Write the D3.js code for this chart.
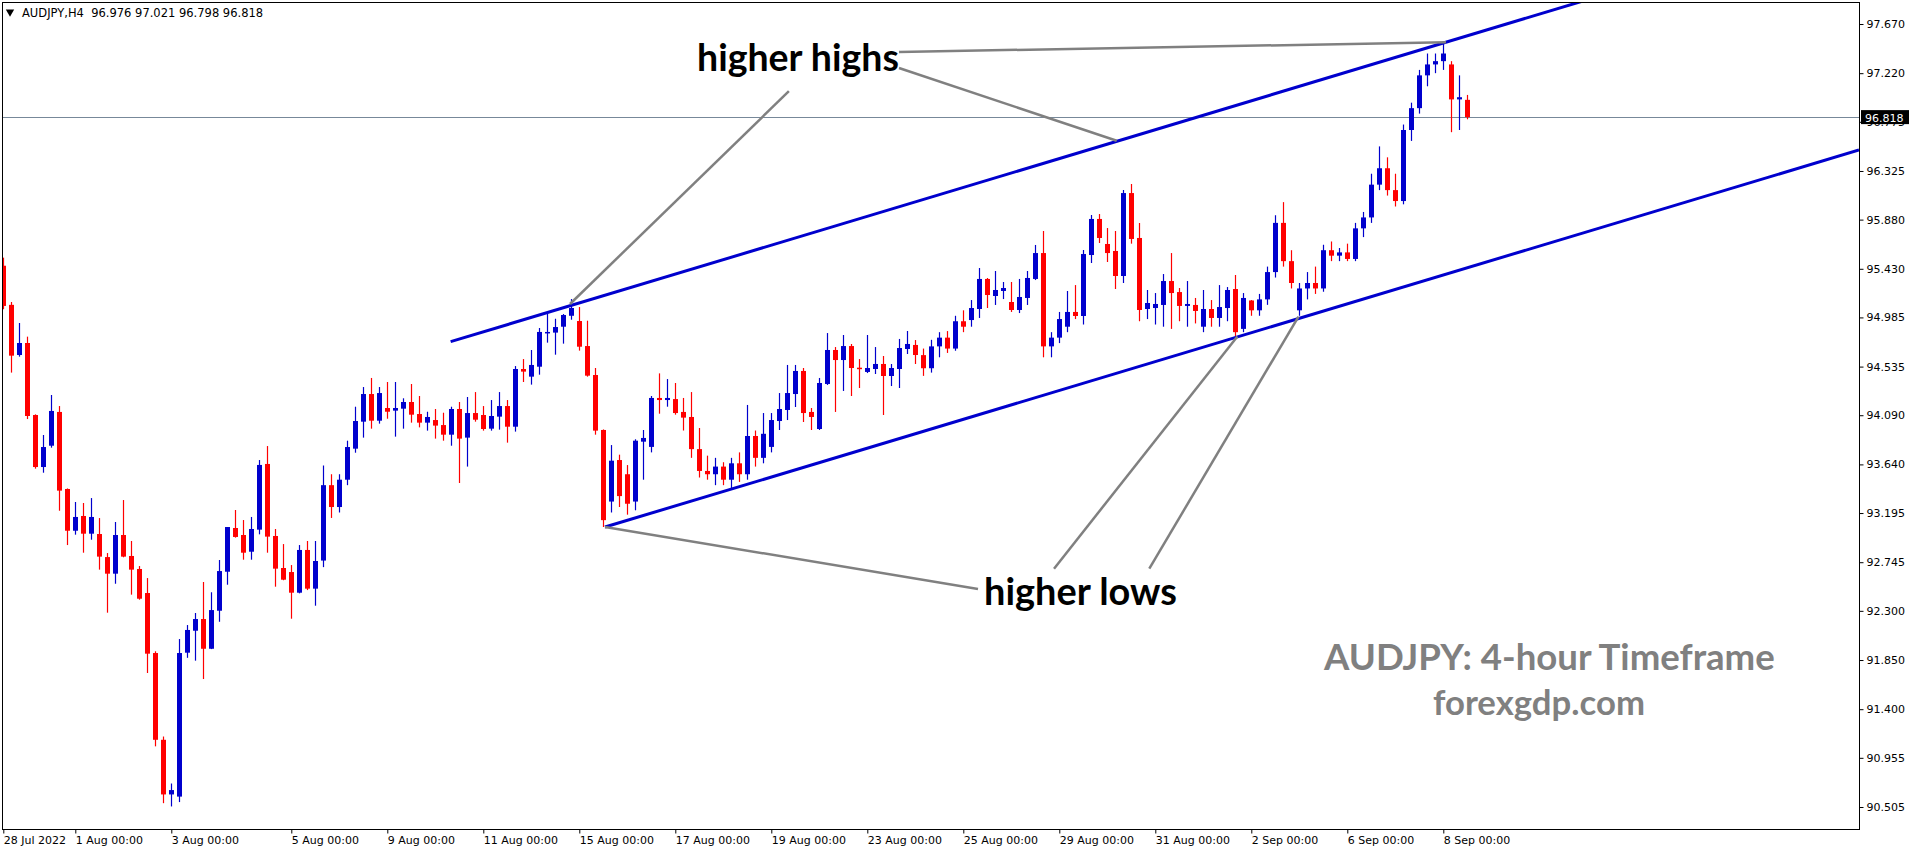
<!DOCTYPE html>
<html><head><meta charset="utf-8">
<script src="https://cdn.jsdelivr.net/npm/d3@7"></script>
<style>
html,body{margin:0;padding:0;background:#fff;overflow:hidden}
svg{display:block}
</style></head><body>
<svg id="chart" width="1916" height="850"></svg>
<script>
// ---------------- DATA ----------------
const chartTitle = "AUDJPY,H4  96.976 97.021 96.798 96.818";
const opens = [
95.458,95.10,94.641,94.751,94.092,93.616,93.811,94.12,93.415,93.033,
93.168,93.006,93.003,92.792,92.64,92.994,92.802,92.683,92.463,91.914,
91.12,90.62,90.60,91.917,92.118,92.225,91.953,92.301,92.658,93.058,
92.994,92.841,93.043,93.644,92.985,92.692,92.655,92.466,92.857,92.503,
92.76,93.45,93.25,93.50,93.784,94.031,94.284,94.04,94.156,94.132,
94.15,94.211,94.101,94.022,94.046,94.0,93.912,94.147,93.885,94.11,
94.092,93.967,94.077,94.174,93.985,94.513,94.443,94.534,94.846,94.846,
94.9,95.0,94.952,94.723,94.458,93.955,93.30,93.68,93.55,93.30,
93.848,93.80,94.248,94.229,94.238,94.12,94.074,93.78,93.58,93.55,
93.62,93.50,93.65,93.55,93.90,93.70,93.80,94.037,94.138,94.284,
94.495,94.12,93.964,94.376,94.687,94.595,94.723,94.525,94.486,94.513,
94.559,94.449,94.513,94.696,94.733,94.64,94.52,94.72,94.80,94.70,
94.95,94.961,95.062,95.337,95.181,95.227,95.126,95.053,95.163,95.337,
95.574,94.72,94.80,94.90,95.035,94.998,95.556,95.886,95.657,95.593,
95.364,96.123,95.712,95.062,95.071,95.099,95.318,95.217,95.09,95.099,
94.90,95.062,94.98,95.071,95.245,94.88,95.14,95.05,95.15,95.40,
95.85,95.50,95.05,95.25,95.30,95.25,95.60,95.55,95.58,95.52,
95.80,95.90,96.20,96.35,96.15,96.05,96.70,96.90,97.20,97.30,
97.33,97.30,96.98,96.976];
const highs = [
95.532,95.126,94.934,94.809,94.098,93.909,94.275,94.174,93.42,93.296,
93.287,93.332,93.149,92.829,93.113,93.314,92.939,92.71,92.60,91.93,
91.15,90.72,92.042,92.17,92.28,92.564,92.47,92.765,93.067,93.223,
93.131,93.159,93.68,93.808,93.049,92.911,92.719,92.902,92.939,92.939,
93.63,93.55,93.55,93.857,94.168,94.348,94.431,94.348,94.394,94.394,
94.245,94.376,94.266,94.122,94.147,94.113,94.168,94.211,94.257,94.302,
94.174,94.229,94.302,94.229,94.54,94.604,94.687,94.888,95.019,94.973,
95.016,95.153,95.08,94.955,94.522,93.96,93.817,93.729,93.634,93.87,
93.955,94.266,94.473,94.421,94.385,94.248,94.302,93.973,93.72,93.70,
93.66,93.70,93.75,94.184,93.95,94.11,94.11,94.293,94.55,94.55,
94.522,94.156,94.431,94.842,94.714,94.824,94.742,94.604,94.824,94.714,
94.632,94.559,94.788,94.861,94.778,94.70,94.78,94.85,94.86,95.00,
95.05,95.144,95.437,95.346,95.41,95.309,95.309,95.337,95.41,95.648,
95.776,94.85,95.035,95.227,95.281,95.602,95.922,95.931,95.803,95.776,
96.151,96.206,95.849,95.236,95.208,95.382,95.574,95.254,95.318,95.163,
95.236,95.144,95.281,95.263,95.373,95.208,95.144,95.20,95.45,95.92,
96.04,95.60,95.30,95.40,95.45,95.65,95.68,95.62,95.66,95.85,
95.95,96.30,96.55,96.45,96.30,96.75,96.95,97.25,97.40,97.40,
97.50,97.33,97.20,97.021];
const lows = [
95.06,94.48,94.626,94.055,93.601,93.564,93.793,93.216,92.902,92.997,
92.832,92.951,92.677,92.283,92.548,92.79,92.448,92.402,91.731,91.06,
90.54,90.51,90.55,91.87,91.844,91.676,91.95,92.20,92.539,92.97,
92.768,92.768,93.0,92.832,92.521,92.58,92.228,92.46,92.49,92.347,
92.70,93.15,93.20,93.45,93.747,93.885,93.967,94.013,94.058,93.894,
93.967,94.022,93.979,93.949,93.876,93.857,93.811,93.47,93.62,94.031,
93.949,93.949,93.958,93.839,93.94,94.394,94.37,94.461,94.754,94.644,
94.745,94.964,94.681,94.443,93.912,93.067,93.20,93.25,93.18,93.22,
93.50,93.75,94.104,94.168,94.095,93.95,93.70,93.52,93.50,93.45,
93.45,93.42,93.48,93.50,93.62,93.65,93.75,93.955,94.046,94.165,
94.028,93.955,93.955,94.367,94.12,94.312,94.266,94.339,94.476,94.467,
94.092,94.357,94.339,94.65,94.559,94.45,94.48,94.62,94.66,94.68,
94.85,94.90,94.98,95.071,95.099,95.153,95.035,95.025,95.099,95.327,
94.62,94.62,94.75,94.85,94.97,94.92,95.483,95.666,95.492,95.245,
95.30,95.66,94.95,94.97,94.92,94.90,94.88,94.95,94.90,94.93,
94.85,94.90,94.90,94.95,94.81,94.85,95.00,95.00,95.10,95.35,
95.45,95.25,95.00,95.15,95.20,95.22,95.50,95.50,95.50,95.50,
95.72,95.85,96.15,96.10,96.00,96.02,96.60,96.85,97.10,97.22,
97.25,96.68,96.70,96.798];
const closes = [
95.09,94.635,94.751,94.083,93.616,93.799,94.129,93.40,93.033,93.159,
93.006,93.159,92.796,92.64,92.994,92.796,92.677,92.411,91.908,91.12,
90.62,90.66,91.914,92.125,92.225,91.953,92.307,92.664,93.067,92.976,
92.832,93.049,93.635,92.979,92.686,92.585,92.466,92.857,92.503,92.756,
93.45,93.25,93.50,93.799,94.037,94.284,94.04,94.293,94.122,94.156,
94.211,94.095,94.022,94.074,93.995,93.912,94.147,93.876,94.11,94.049,
93.964,94.083,94.174,93.985,94.513,94.489,94.55,94.852,94.852,94.897,
95.007,95.071,94.717,94.452,93.949,93.13,93.674,93.35,93.28,93.857,
93.882,94.248,94.229,94.248,94.11,94.068,93.78,93.58,93.55,93.62,
93.50,93.65,93.55,93.90,93.70,93.92,94.046,94.147,94.293,94.495,
94.11,94.074,94.385,94.687,94.595,94.723,94.522,94.519,94.522,94.559,
94.449,94.522,94.705,94.742,94.641,94.52,94.72,94.80,94.70,94.95,
94.90,95.071,95.337,95.19,95.236,95.254,95.053,95.172,95.346,95.574,
94.72,94.80,94.97,95.035,94.998,95.565,95.886,95.712,95.574,95.364,
96.123,95.703,95.053,95.117,95.108,95.318,95.208,95.09,95.108,95.044,
95.062,94.98,95.08,95.236,94.85,95.163,95.05,95.15,95.40,95.85,
95.50,95.30,95.25,95.30,95.25,95.60,95.55,95.58,95.52,95.80,
95.90,96.20,96.35,96.15,96.05,96.70,96.90,97.20,97.30,97.33,
97.40,96.98,97.00,96.818];
const priceTicks = [97.670,97.220,96.775,96.325,95.880,95.430,94.985,94.535,94.090,93.640,93.195,92.745,92.300,91.850,91.400,90.955,90.505];
const dateLabels = ["28 Jul 2022","1 Aug 00:00","3 Aug 00:00","5 Aug 00:00","9 Aug 00:00","11 Aug 00:00","15 Aug 00:00","17 Aug 00:00","19 Aug 00:00","23 Aug 00:00","25 Aug 00:00","29 Aug 00:00","31 Aug 00:00","2 Sep 00:00","6 Sep 00:00","8 Sep 00:00"];
const dateLabelBars = [0,9,21,36,48,60,72,84,96,108,120,132,144,156,168,180];
const lastPrice = 96.818;
// trend lines: [barIndex, price]
const upperChannel = [[55.92,94.763],[232,98.641]];
const lowerChannel = [[75.21,93.067],[231.96,96.517]];
const pointerLines = [
  [[98.2,97.055],[70.84,95.108]],
  [[111.96,97.267],[139.18,96.602]],
  [[111.96,97.414],[180.34,97.503]],
  [[121.84,92.50],[75.21,93.067]],
  [[131.34,92.686],[154.26,94.810]],
  [[143.25,92.686],[161.9,94.993]]
];
const annotations = [
  {text:"higher highs", x:697, y:71, w:202, color:"#000"},
  {text:"higher lows", x:984, y:605, w:193, color:"#000"},
  {text:"AUDJPY: 4-hour Timeframe", x:1324, y:670, w:451, color:"#808080"},
  {text:"forexgdp.com", x:1433, y:715, w:212, color:"#808080"}
];

// ---------------- LAYOUT ----------------
const W = 1916, H = 850;
const plot = {left:2, top:2, right:1859, bottom:829};
const svg = d3.select("#chart");

const x = d3.scaleLinear().domain([0, 232]).range([3.3, 3.3 + 8*232]);
const y = d3.scaleLinear().domain([90.505, 97.670]).range([807, 24]);

const candles = opens.map((o,i)=>({i, o, h:highs[i], l:lows[i], c:closes[i]}));

svg.append("rect").attr("width",W).attr("height",H).attr("fill","#fff");

svg.append("defs").append("clipPath").attr("id","plotclip")
  .append("rect").attr("x",plot.left).attr("y",plot.top)
  .attr("width",plot.right-plot.left).attr("height",plot.bottom-plot.top);

const g = svg.append("g").attr("clip-path","url(#plotclip)");

// current price line
g.append("line")
  .attr("x1",plot.left).attr("x2",plot.right)
  .attr("y1",Math.round(y(lastPrice))+0.5).attr("y2",Math.round(y(lastPrice))+0.5)
  .attr("stroke","#778899").attr("stroke-width",1);

const BULL = "#0000cd", BEAR = "#ff0000";
const cg = g.append("g");
cg.selectAll("line.wick").data(candles).join("line")
  .attr("class","wick")
  .attr("x1",d=>Math.round(x(d.i))+0.5).attr("x2",d=>Math.round(x(d.i))+0.5)
  .attr("y1",d=>y(d.h)).attr("y2",d=>y(d.l))
  .attr("stroke",d=>d.c>=d.o?BULL:BEAR).attr("stroke-width",1.2);
cg.selectAll("rect.body").data(candles).join("rect")
  .attr("class","body")
  .attr("x",d=>Math.round(x(d.i))-2)
  .attr("width",5)
  .attr("y",d=>y(Math.max(d.o,d.c)))
  .attr("height",d=>Math.max(1.5, Math.abs(y(d.o)-y(d.c))))
  .attr("fill",d=>d.c>=d.o?BULL:BEAR);

// channel lines
const lineGen = d3.line().x(d=>x(d[0])).y(d=>y(d[1]));
[upperChannel, lowerChannel].forEach(pts=>{
  g.append("path").attr("d",lineGen(pts)).attr("fill","none")
   .attr("stroke",BULL).attr("stroke-width",3);
});
// pointer lines
pointerLines.forEach(pts=>{
  g.append("path").attr("d",lineGen(pts)).attr("fill","none")
   .attr("stroke","#808080").attr("stroke-width",2.5);
});

// annotation texts
annotations.forEach(a=>{
  const t = g.append("text").attr("x",a.x).attr("y",a.y)
    .attr("font-family","Lato, 'Open Sans', sans-serif")
    .attr("font-weight",700).attr("font-size",36)
    .attr("fill",a.color).text(a.text);
  const len = t.node().getComputedTextLength();
  t.attr("font-size", 36*a.w/len);
});

// borders
svg.append("rect").attr("x",plot.left+0.5).attr("y",plot.top+0.5)
  .attr("width",plot.right-plot.left).attr("height",plot.bottom-plot.top)
  .attr("fill","none").attr("stroke","#000").attr("stroke-width",1);

// price axis
const axisFont = "'DejaVu Sans', Verdana, sans-serif";
const yAxis = d3.axisRight(y).tickValues(priceTicks).tickFormat(d3.format(".3f")).tickSize(4).tickPadding(3);
const ya = svg.append("g").attr("transform",`translate(${plot.right+0.5},0)`).call(yAxis);
ya.select(".domain").remove();
ya.selectAll("text").attr("font-family",axisFont).attr("font-size",11).attr("fill","#000");
ya.selectAll("line").attr("stroke","#000");

// last price box
const ly = y(lastPrice);
svg.append("rect").attr("x",plot.right+2).attr("y",ly-7).attr("width",48).attr("height",14).attr("fill","#000");
svg.append("text").attr("x",plot.right+6).attr("y",ly+4.5)
  .attr("font-family",axisFont).attr("font-size",11).attr("fill","#fff")
  .text(d3.format(".3f")(lastPrice));

// date axis
const xAxis = d3.axisBottom(x).tickValues(dateLabelBars)
  .tickFormat((d,i)=>dateLabels[i]).tickSize(4).tickPadding(3);
const xa = svg.append("g").attr("transform",`translate(0,${plot.bottom+0.5})`).call(xAxis);
xa.select(".domain").remove();
xa.selectAll("text").attr("font-family",axisFont).attr("font-size",11).attr("fill","#000")
  .attr("text-anchor","start").attr("dx",0);
xa.selectAll("line").attr("stroke","#000");

// title
svg.append("path").attr("d",d3.symbol(d3.symbolTriangle,30)()).attr("transform","translate(10,12) rotate(180)").attr("fill","#000");
svg.append("text").attr("x",22).attr("y",17)
  .attr("font-family",axisFont).attr("font-size",11.5).attr("fill","#000")
  .attr("xml:space","preserve").style("white-space","pre").text(chartTitle);
</script>
</body></html>
